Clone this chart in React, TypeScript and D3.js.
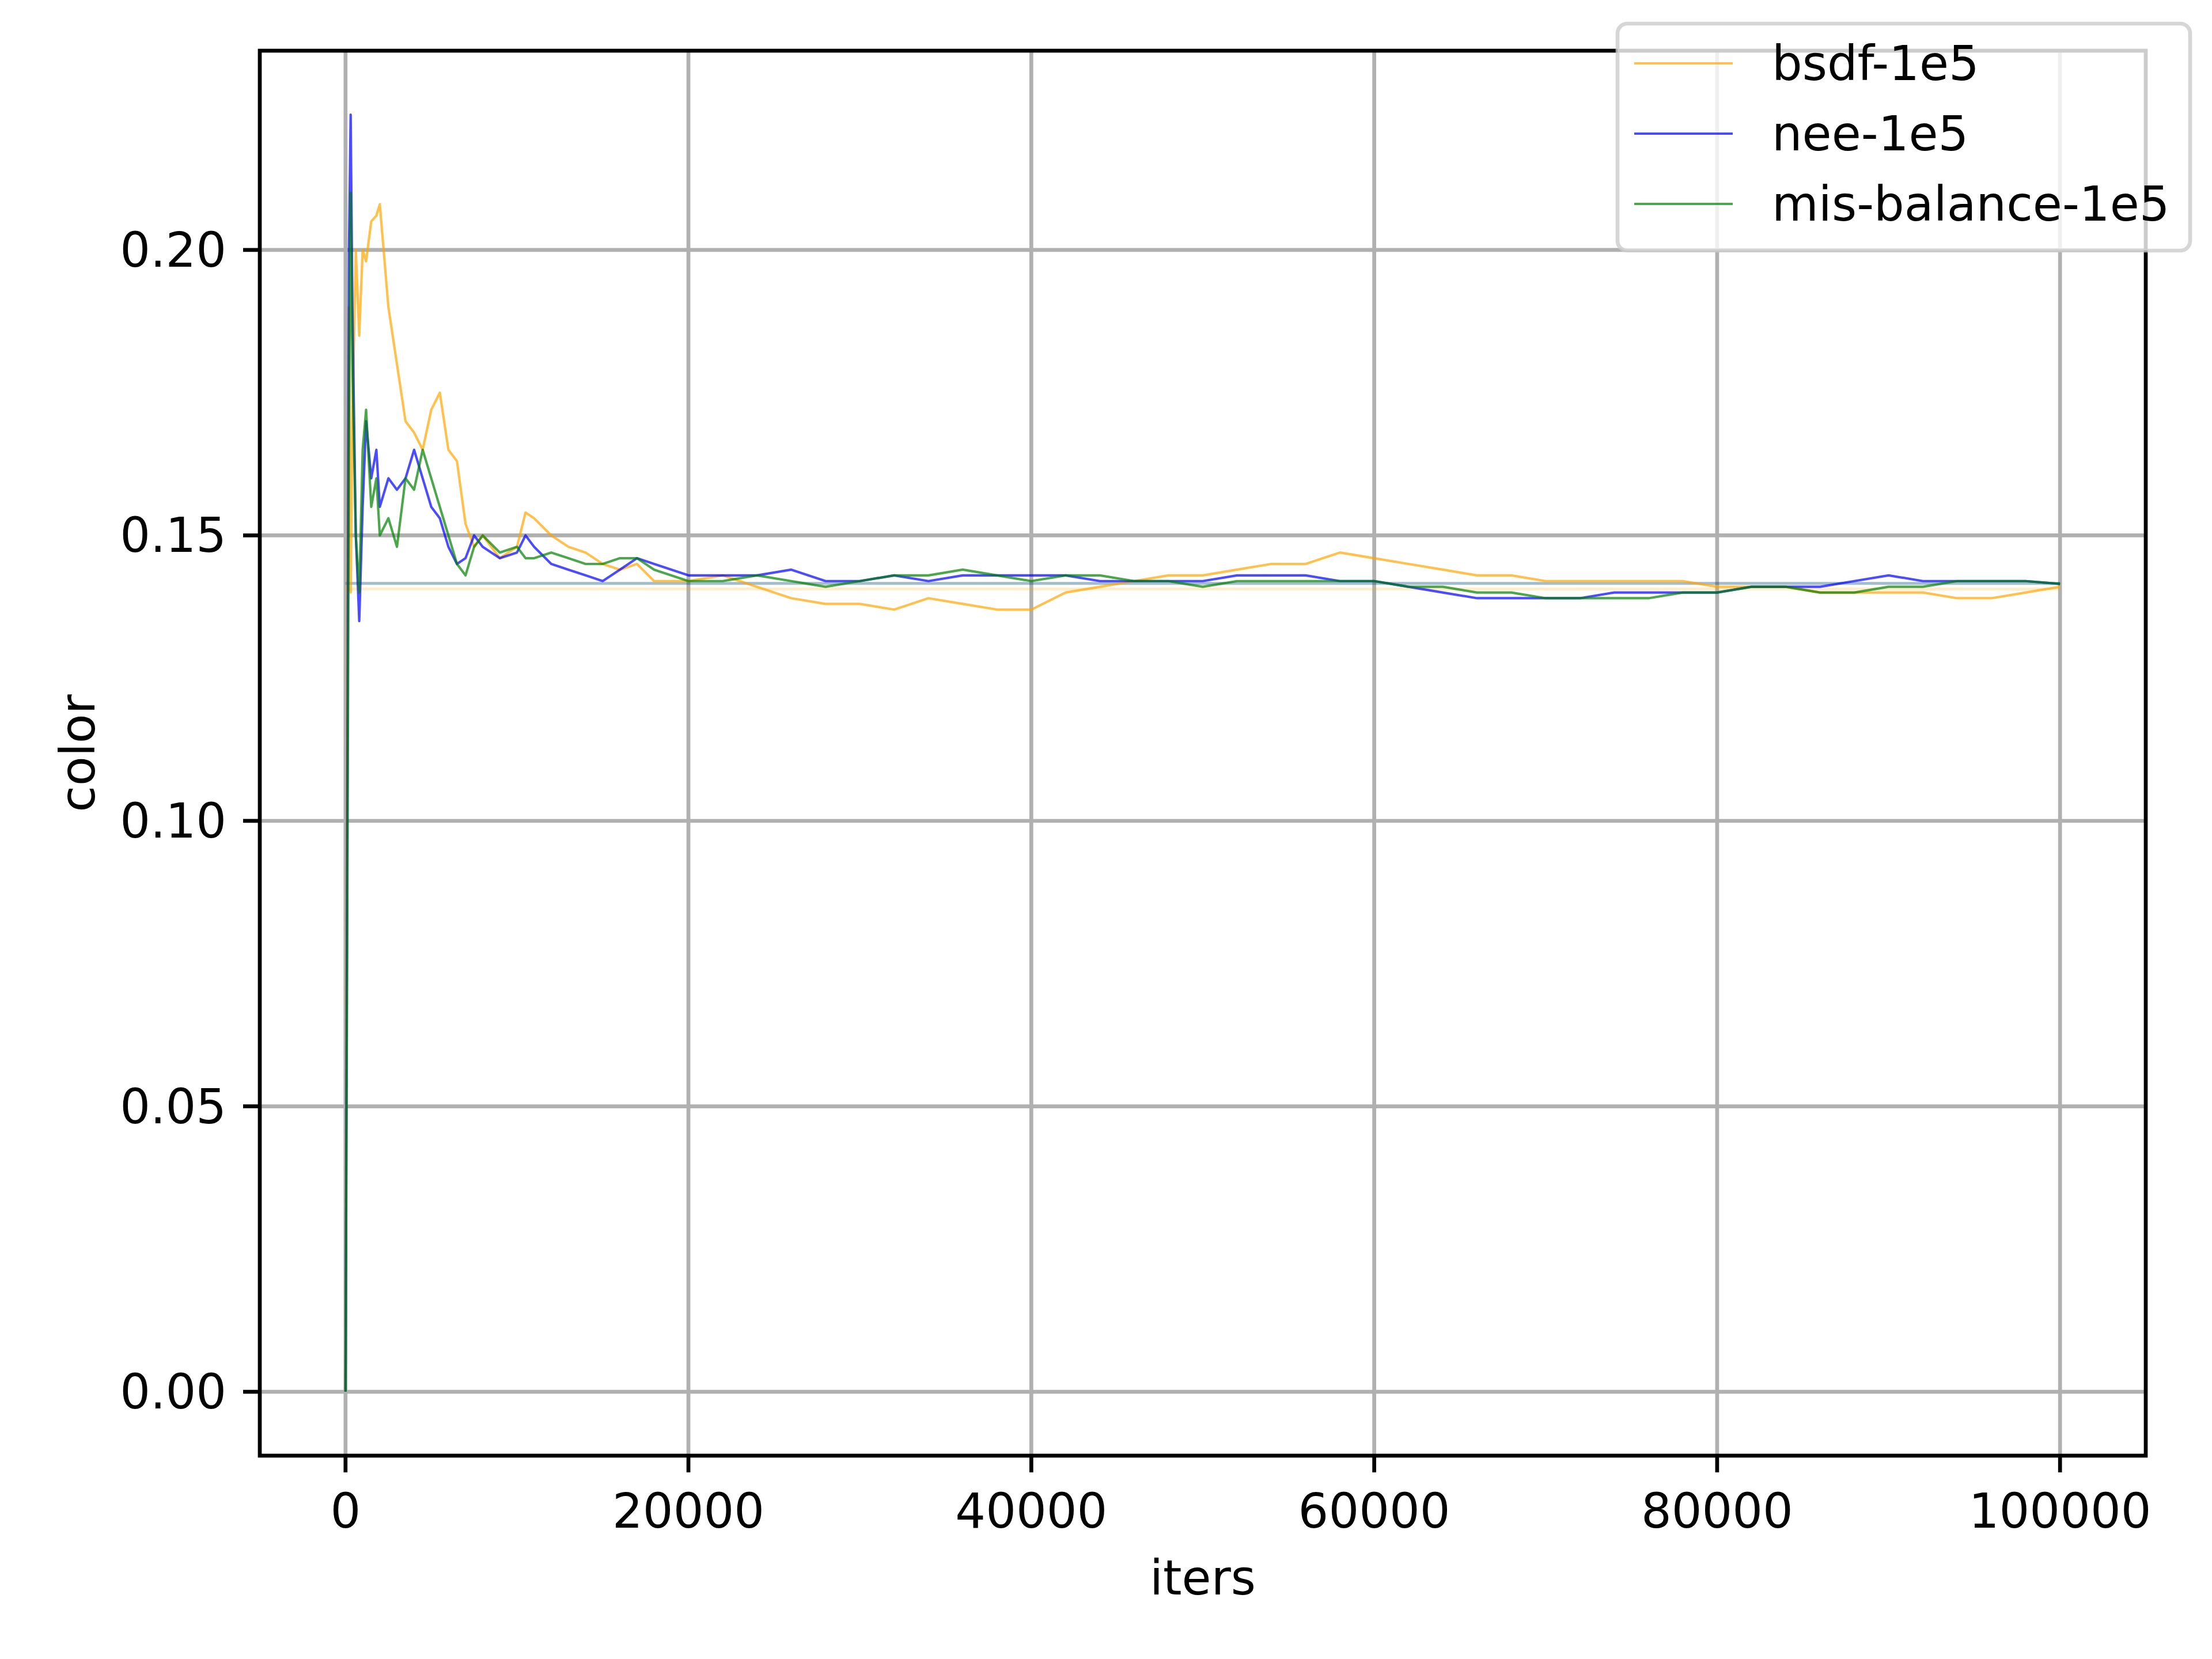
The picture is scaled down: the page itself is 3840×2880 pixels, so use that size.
import * as d3 from 'd3'

// iteration counts at which each series was sampled
const itersEarly = [0, 100, 200, 300, 400, 600, 800, 1000, 1200, 1500, 1800, 2000, 2500, 3000, 3500, 4000, 4500, 5000, 5500, 6000, 6500, 7000, 7500, 8000, 9000, 10000, 10500, 11000, 12000, 13000, 14000, 15000, 16000, 17000, 18000]
const itersLate = d3.range(20000, 100001, 2000)
const iters = [...itersEarly, ...itersLate]

const bsdf = [0, 0.13, 0.19, 0.14, 0.17, 0.2, 0.185, 0.2, 0.198, 0.205, 0.206, 0.208, 0.19, 0.18, 0.17, 0.168, 0.165, 0.172, 0.175, 0.165, 0.163, 0.152, 0.148, 0.15, 0.146, 0.148, 0.154, 0.153, 0.15, 0.148, 0.147, 0.145, 0.144, 0.145, 0.142,
  0.142, 0.143, 0.141, 0.139, 0.138, 0.138, 0.137, 0.139, 0.138, 0.137, 0.137, 0.14, 0.141, 0.142, 0.143, 0.143, 0.144, 0.145, 0.145, 0.147, 0.146, 0.145, 0.144, 0.143, 0.143, 0.142, 0.142, 0.142, 0.142, 0.142, 0.141, 0.141, 0.141, 0.140, 0.140, 0.140, 0.140, 0.139, 0.139, 0.140, 0.141]
const nee = [0, 0.1, 0.2, 0.2237, 0.19, 0.15, 0.135, 0.155, 0.17, 0.16, 0.165, 0.155, 0.16, 0.158, 0.16, 0.165, 0.16, 0.155, 0.153, 0.148, 0.145, 0.146, 0.15, 0.148, 0.146, 0.147, 0.15, 0.148, 0.145, 0.144, 0.143, 0.142, 0.144, 0.146, 0.145,
  0.143, 0.143, 0.143, 0.144, 0.142, 0.142, 0.143, 0.142, 0.143, 0.143, 0.143, 0.143, 0.142, 0.142, 0.142, 0.142, 0.143, 0.143, 0.143, 0.142, 0.142, 0.141, 0.140, 0.139, 0.139, 0.139, 0.139, 0.140, 0.140, 0.140, 0.140, 0.141, 0.141, 0.141, 0.142, 0.143, 0.142, 0.142, 0.142, 0.142, 0.1415]
const mis = [0, 0.08, 0.17, 0.21, 0.18, 0.15, 0.14, 0.165, 0.172, 0.155, 0.16, 0.15, 0.153, 0.148, 0.16, 0.158, 0.165, 0.16, 0.155, 0.15, 0.145, 0.143, 0.148, 0.15, 0.147, 0.148, 0.146, 0.146, 0.147, 0.146, 0.145, 0.145, 0.146, 0.146, 0.144,
  0.142, 0.142, 0.143, 0.142, 0.141, 0.142, 0.143, 0.143, 0.144, 0.143, 0.142, 0.143, 0.143, 0.142, 0.142, 0.141, 0.142, 0.142, 0.142, 0.142, 0.142, 0.141, 0.141, 0.140, 0.140, 0.139, 0.139, 0.139, 0.139, 0.140, 0.140, 0.141, 0.141, 0.140, 0.140, 0.141, 0.141, 0.142, 0.142, 0.142, 0.1415]

const refValues = [0.1406, 0.1416, 0.1416]
const labels = ['bsdf-1e5', 'nee-1e5', 'mis-balance-1e5']
const colors = ['orange', 'blue', 'green']
const seriesList = [bsdf, nee, mis]

const xTicks = [0, 20000, 40000, 60000, 80000, 100000]
const yTicks = [0, 0.05, 0.1, 0.15, 0.2]

const W = 3840
const H = 2880
const left = 451
const right = 3725
const top = 88
const bottom = 2527
const font = 'DejaVu Sans, sans-serif'

export default function App() {
  const x = d3.scaleLinear().domain([-5000, 105000]).range([left, right])
  const y = d3.scaleLinear().domain([-0.01119, 0.2349]).range([bottom, top])
  const line = d3
    .line<number>()
    .x((_, i) => x(iters[i]))
    .y(d => y(d))

  return (
    <svg width={W} height={H} style={{ position: 'absolute', left: 0, top: 0, background: '#fff' }}>
      <rect x={0} y={0} width={W} height={H} fill="#fff" />
      {/* grid */}
      {xTicks.map(t => (
        <line key={'gx' + t} x1={x(t)} x2={x(t)} y1={top} y2={bottom} stroke="#b0b0b0" strokeWidth={6.7} />
      ))}
      {yTicks.map(t => (
        <line key={'gy' + t} x1={left} x2={right} y1={y(t)} y2={y(t)} stroke="#b0b0b0" strokeWidth={6.7} />
      ))}
      {/* reference lines */}
      {refValues.map((v, i) => (
        <line key={'r' + i} x1={x(0)} x2={x(100000)} y1={y(v)} y2={y(v)} stroke={colors[i]} strokeOpacity={0.2} strokeWidth={5} />
      ))}
      {seriesList.map((s, i) => (
        <path key={labels[i]} d={line(s) || ''} fill="none" stroke={colors[i]} strokeOpacity={0.7} strokeWidth={4.2} strokeLinejoin="round" />
      ))}
      {/* spines */}
      <rect x={left} y={top} width={right - left} height={bottom - top} fill="none" stroke="#000" strokeWidth={6.7} strokeLinejoin="miter" />
      {xTicks.map(t => (
        <g key={'tx' + t}>
          <line x1={x(t)} x2={x(t)} y1={bottom} y2={bottom + 29} stroke="#000" strokeWidth={6.7} />
          <text x={x(t)} y={bottom + 125} fontSize={83} fontFamily={font} textAnchor="middle">{t}</text>
        </g>
      ))}
      {yTicks.map(t => (
        <g key={'ty' + t}>
          <line x1={left - 29} x2={left} y1={y(t)} y2={y(t)} stroke="#000" strokeWidth={6.7} />
          <text x={left - 58} y={y(t)} dy="0.35em" fontSize={83} fontFamily={font} textAnchor="end">{d3.format('.2f')(t)}</text>
        </g>
      ))}
      <text x={(left + right) / 2} y={2768} fontSize={83} fontFamily={font} textAnchor="middle">iters</text>
      <text transform={`translate(135, ${(top + bottom) / 2}) rotate(-90)`} dy="0.35em" fontSize={83} fontFamily={font} textAnchor="middle">color</text>
      {/* legend */}
      <rect x={2808} y={41} width={994} height={394} rx={17} fill="#fff" fillOpacity={0.8} stroke="#cccccc" strokeOpacity={0.8} strokeWidth={6.7} />
      {labels.map((l, i) => (
        <g key={'lg' + l}>
          <line x1={2837} x2={3008} y1={110 + i * 122} y2={110 + i * 122} stroke={colors[i]} strokeOpacity={0.7} strokeWidth={4.2} />
          <text x={3076} y={110 + i * 122} dy="0.35em" fontSize={83} fontFamily={font}>{l}</text>
        </g>
      ))}
    </svg>
  )
}
